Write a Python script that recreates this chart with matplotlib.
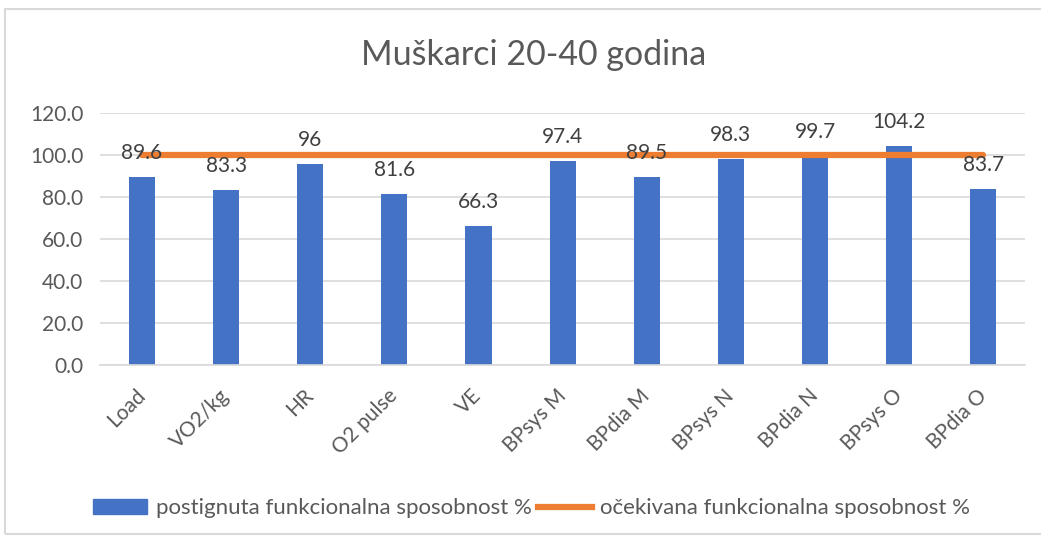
import matplotlib
matplotlib.use('Agg')
import matplotlib.pyplot as plt
from matplotlib.patches import Rectangle, Patch
from matplotlib.lines import Line2D

plt.rcParams['font.family'] = ['Lato', 'DejaVu Sans']

# podaci
kategorije = ['Load', 'VO2/kg', 'HR', 'O2 pulse', 'VE', 'BPsys M', 'BPdia M',
              'BPsys N', 'BPdia N', 'BPsys O', 'BPdia O']
postignuta = [89.6, 83.3, 96, 81.6, 66.3, 97.4, 89.5, 98.3, 99.7, 104.2, 83.7]
ocekivana = [100] * len(kategorije)
oznake = ['89.6', '83.3', '96', '81.6', '66.3', '97.4', '89.5', '98.3', '99.7', '104.2', '83.7']

plava = '#4472C4'
narandzasta = '#ED7D31'
siva = '#595959'

fig = plt.figure(figsize=(10.41, 5.39), dpi=100)
ax = fig.add_axes([0.096, 0.323, 0.889, 0.467])

x = list(range(len(kategorije)))
ax.bar(x, postignuta, width=0.31, color=plava, zorder=2)
ax.plot(x, ocekivana, color=narandzasta, lw=4.5, zorder=3, solid_capstyle='round')

for xi, v, t in zip(x, postignuta, oznake):
    ax.annotate(t, (xi, v), xytext=(0, 10), textcoords='offset points',
                ha='center', va='bottom', fontsize=15, color='#404040', zorder=4)

ax.set_ylim(0, 120)
ax.set_xlim(-0.5, len(kategorije) - 0.5)
ax.set_yticks(range(0, 121, 20))
ax.set_yticklabels([f'{v:.1f}' for v in range(0, 121, 20)])
ax.set_xticks(x)
ax.set_xticklabels(kategorije, rotation=45, ha='right', va='center', rotation_mode='anchor')
ax.grid(axis='y', color='#d9d9d9', lw=1.2, zorder=0)
for s in ['top', 'right', 'left']:
    ax.spines[s].set_visible(False)
ax.spines['bottom'].set_color('#d9d9d9')
ax.spines['bottom'].set_linewidth(1.2)
ax.tick_params(axis='both', length=0, labelsize=15, colors=siva)
ax.tick_params(axis='y', pad=12)
ax.tick_params(axis='x', pad=20)

fig.text(0.513, 0.898, 'Muškarci 20-40 godina', ha='center', va='center',
         fontsize=24.5, color=siva)

ruckice = [Patch(color=plava), Line2D([0], [0], color=narandzasta, lw=4.5)]
fig.legend(ruckice, ['postignuta funkcionalna sposobnost %', 'očekivana funkcionalna sposobnost %'],
           loc='center', bbox_to_anchor=(0.511, 0.057), ncol=2, frameon=False,
           fontsize=16, labelcolor=siva, handlelength=2.4, handleheight=0.65,
           columnspacing=0.3, handletextpad=0.4)

fig.add_artist(Rectangle((0.005, 0.01), 1.1, 0.973, transform=fig.transFigure,
                         fill=False, edgecolor='#d9d9d9', lw=1.5))

fig.savefig('out.png', dpi=100)
